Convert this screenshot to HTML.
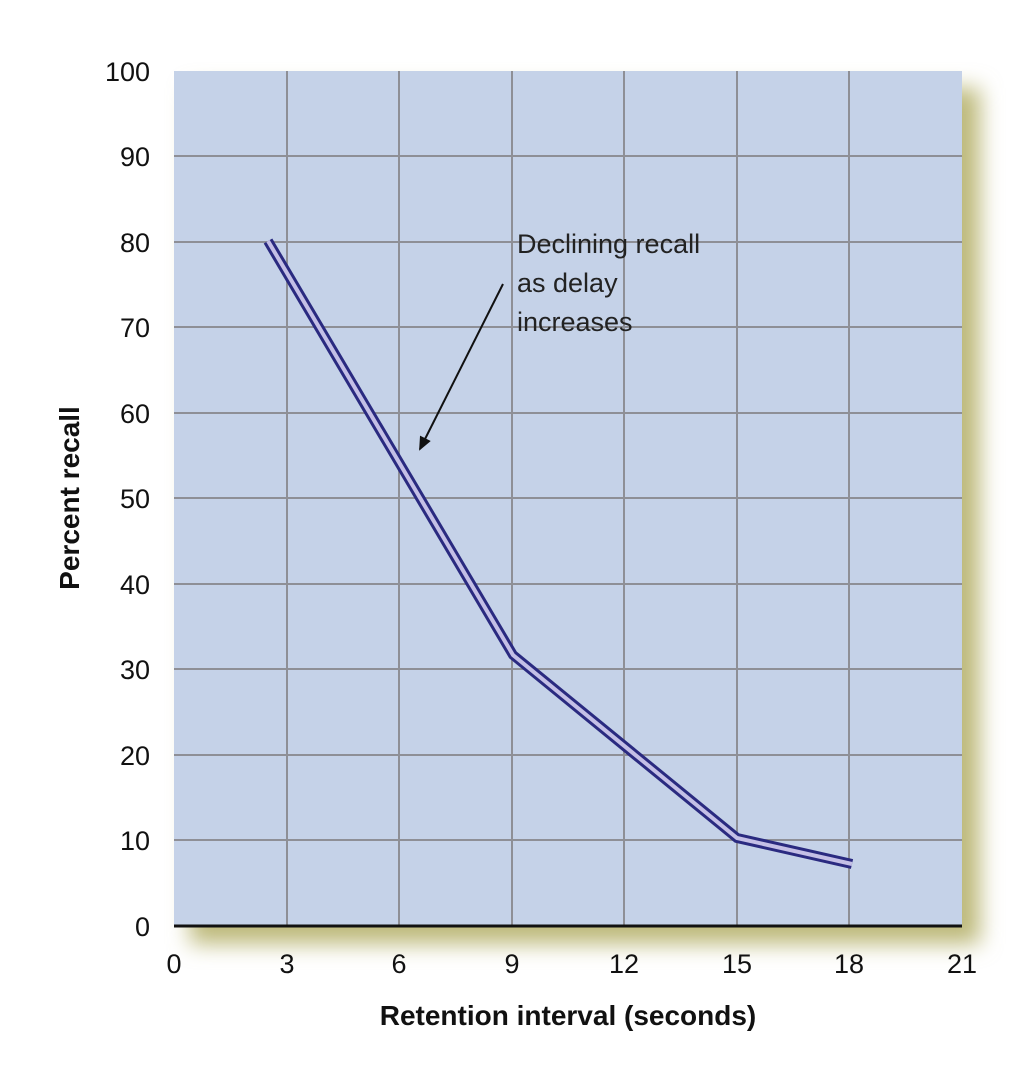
<!DOCTYPE html>
<html><head><style>body{margin:0;background:#fff}</style></head><body>
<svg width="1033" height="1064" xmlns="http://www.w3.org/2000/svg" font-family="Liberation Sans, sans-serif">
<defs><filter id="b" x="-10%" y="-10%" width="130%" height="130%"><feGaussianBlur stdDeviation="11"/></filter>
<marker id="ar" markerWidth="14" markerHeight="12" refX="12" refY="6" orient="auto" markerUnits="userSpaceOnUse"><path d="M0,0 L14,6 L0,12 Z" fill="#111"/></marker></defs>
<rect x="190" y="88" width="790" height="856" fill="#bdb97a" filter="url(#b)"/>
<rect x="174" y="71" width="788" height="855" fill="#c5d2e8"/>
<g stroke="#8e8f96" stroke-width="2">
<line x1="287" y1="71" x2="287" y2="926"/><line x1="399" y1="71" x2="399" y2="926"/><line x1="512" y1="71" x2="512" y2="926"/><line x1="624" y1="71" x2="624" y2="926"/><line x1="737" y1="71" x2="737" y2="926"/><line x1="849" y1="71" x2="849" y2="926"/>
<line x1="174" y1="156" x2="962" y2="156"/><line x1="174" y1="242" x2="962" y2="242"/><line x1="174" y1="327" x2="962" y2="327"/><line x1="174" y1="413" x2="962" y2="413"/><line x1="174" y1="498" x2="962" y2="498"/><line x1="174" y1="584" x2="962" y2="584"/><line x1="174" y1="669" x2="962" y2="669"/><line x1="174" y1="755" x2="962" y2="755"/><line x1="174" y1="840" x2="962" y2="840"/>
</g>
<line x1="174" y1="926" x2="962" y2="926" stroke="#111" stroke-width="3"/>
<polyline points="268,241 513,655 737,838 852,864" fill="none" stroke="#2a2a80" stroke-width="10"/>
<polyline points="268,241 513,655 737,838 852,864" fill="none" stroke="#c4bfe6" stroke-width="4"/>
<line x1="503" y1="284" x2="420" y2="449" stroke="#111" stroke-width="2" marker-end="url(#ar)"/>
<g font-size="27" fill="#222"><text x="517" y="253">Declining recall</text><text x="517" y="292">as delay</text><text x="517" y="331">increases</text></g>
<g font-size="27" fill="#111" text-anchor="end">
<text x="150" y="81">100</text><text x="150" y="166">90</text><text x="150" y="252">80</text><text x="150" y="337">70</text><text x="150" y="423">60</text><text x="150" y="508">50</text><text x="150" y="594">40</text><text x="150" y="679">30</text><text x="150" y="765">20</text><text x="150" y="850">10</text><text x="150" y="936">0</text>
</g>
<g font-size="27" fill="#111" text-anchor="middle">
<text x="174" y="973">0</text><text x="287" y="973">3</text><text x="399" y="973">6</text><text x="512" y="973">9</text><text x="624" y="973">12</text><text x="737" y="973">15</text><text x="849" y="973">18</text><text x="962" y="973">21</text>
</g>
<text x="568" y="1025" font-size="28" font-weight="bold" text-anchor="middle" fill="#111">Retention interval (seconds)</text>
<text transform="translate(79,498) rotate(-90)" font-size="28" font-weight="bold" text-anchor="middle" fill="#111">Percent recall</text>
</svg>
</body></html>
